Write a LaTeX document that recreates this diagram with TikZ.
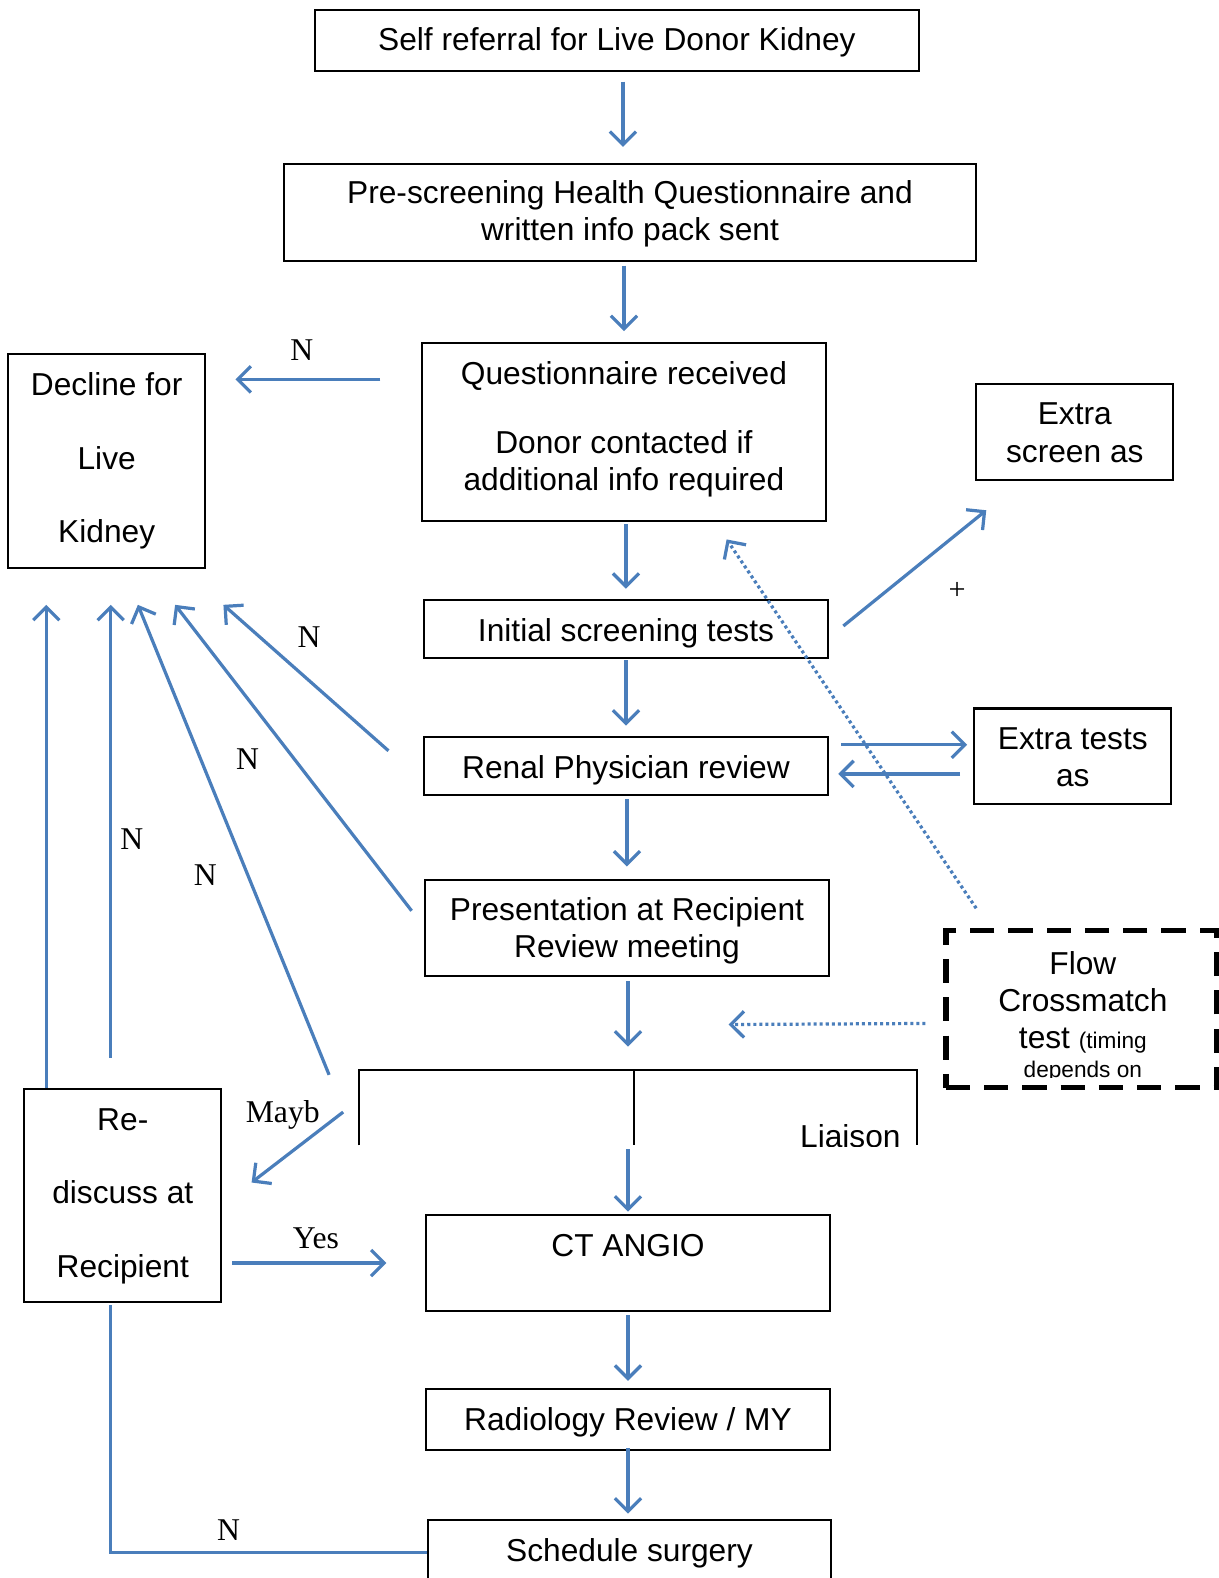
\documentclass[tikz,border=0pt]{standalone}
\usepackage{fontspec}
\setmainfont{Liberation Sans}
\newfontfamily\labserif{Liberation Serif}
\usetikzlibrary{arrows.meta,calc}
\definecolor{lineblue}{RGB}{74,126,187}
\begin{document}
\begin{tikzpicture}[x=1pt,y=-1pt,
  box/.style={draw=black,line width=2pt,inner sep=0pt},
  txt/.style={align=center,inner sep=0pt,font=\fontsize{31.5}{37}\selectfont,text height=22.5pt,text depth=0pt},
  lab/.style={inner sep=0pt,font=\labserif\fontsize{31.5}{34}\selectfont,text height=20.9pt,text depth=0pt},
  conn/.style={draw=lineblue,line width=3.2pt},
  arr/.style={conn,-{Straight Barb[length=13pt,width=26pt,line width=3.2pt]}},
  dotarr/.style={arr,dash pattern=on 3pt off 3pt}]
\useasboundingbox (0,0) rectangle (1211,1568);

% boxes
\node[box,minimum width=600pt,minimum height=61pt] (b1) at (613,40.5) {};
\node[box,minimum width=688pt,minimum height=96pt] (b2) at (626,211) {};
\node[box,minimum width=402pt,minimum height=177pt] (b3) at (620,429.5) {};
\node[box,minimum width=196pt,minimum height=212pt] (bD) at (106,458) {};
\node[box,minimum width=196pt,minimum height=95pt] (bES) at (1068,429.5) {};
\node[box,minimum width=402pt,minimum height=58pt] (b4) at (622,625) {};
\node[box,minimum width=402pt,minimum height=58pt] (b5) at (622,761) {};
\node[box,minimum width=196pt,minimum height=95pt] (bET) at (1066,751.5) {};
\node[box,minimum width=402pt,minimum height=96pt] (b6) at (623,922) {};
\node[draw=black,line width=5pt,dash pattern=on 24pt off 14pt,inner sep=0pt,minimum width=269pt,minimum height=156pt] (bF) at (1074.5,1003) {};
\node[box,minimum width=196pt,minimum height=212pt] (bR) at (122,1188) {};
\node[box,minimum width=402pt,minimum height=96pt] (b7) at (624,1255) {};
\node[box,minimum width=402pt,minimum height=61pt] (b8) at (624,1410.5) {};
\node[box,minimum width=401pt,minimum height=66pt] (b9) at (625.5,1543) {};

% open review box (cut off)
\coordinate (rtl) at (357,1063);
\coordinate (rtop) at (630,1063);
\coordinate (rbot) at (630,1138);
\draw[black,line width=2pt] (357,1138) -- (rtl) -- (911,1063) -- (911,1138);
\draw[black,line width=2pt] (rtop) -- (rbot);

% texts (multi-line nodes are placed by their last line)
\node[txt] (t1) at (613,39) {Self referral for Live Donor Kidney};
\node[txt] (t2) at (626,228) {Pre-screening Health Questionnaire and\\written info pack sent};
\node[txt] (t3) at (620,476) {Questionnaire received\\[31pt]Donor contacted if\\additional info required};
\node[txt] (tD) at (106,528) {Decline for\\[36pt]Live\\[36pt]Kidney};
\node[txt] (tES) at (1068,448) {Extra\\screen as};
\node[txt] (t4) at (622,626) {Initial screening tests};
\node[txt] (t5) at (622,762) {Renal Physician review};
\node[txt] (tET) at (1066,770) {Extra tests\\as};
\node[txt] (t6) at (623,940) {Presentation at Recipient\\Review meeting};
\begin{scope}
  \clip (940,925) rectangle (1209,1071);
  \node[txt,anchor=base] (tF) at (1076,1071) {Flow\\Crossmatch\\test {\fontsize{22.5}{26}\selectfont (timing}\\[-8pt]{\fontsize{22.5}{26}\selectfont depends on}};
\end{scope}
\begin{scope}
  \clip (760,1063) rectangle (905,1139);
  \node[txt] (tL) at (845,1129) {Liaison};
\end{scope}
\node[txt] (tR) at (122,1258) {Re-\\[36pt]discuss at\\[36pt]Recipient};
\node[txt] (t7) at (624,1237) {CT ANGIO};
\node[txt] (t8) at (624,1410) {Radiology Review / MY};
\node[txt] (t9) at (625.5,1540) {Schedule surgery};

% main vertical flow
\draw[arr] ($(b1.south)+(6,9)$) -- ($(b2.north)+(-7,-16)$);
\draw[arr] ($(b2.south)+(-6,4)$) -- ($(b3.north)+(0,-11)$);
\draw[arr] ($(b3.south)+(2,2)$) -- ($(b4.north)+(0,-10)$);
\draw[arr] ($(b4.south)+(0,1)$) -- ($(b5.north)+(0,-10)$);
\draw[arr] ($(b5.south)+(1,3)$) -- ($(b6.north)+(0,-12)$);
\draw[arr] ($(b6.south)+(1,4)$) -- ($(rtop)+(-6,-23)$);
\draw[arr] ($(rbot)+(-6,4)$) -- ($(b7.north)+(0,-2)$);
\draw[arr] ($(b7.south)+(0,3)$) -- ($(b8.north)+(0,-7)$);
\draw[arr] ($(b8.south)+(0,-3)$) -- ($(b9.north)+(-1.5,-5)$);

% side arrows
\draw[arr] ($(b3.west)+(-40,-52.5)$) -- ($(bD.east)+(29,-81)$);
\draw[arr] ($(b4.east)+(14,-3)$) -- ($(bES.south)+(-88,29)$);
\draw[dotarr] ($(bF.north)+(-104.5,-20)$) -- ($(b3.south)+(102,17)$);
\draw[arr] ($(b5.east)+(12,-21)$) -- ($(bET.west)+(-6,-11.5)$);
\draw[arr] ($(bET.west)+(-13,17.5)$) -- ($(b5.east)+(9,8)$);
\draw[dotarr] ($(bF.west)+(-18,14)$) -- ($(b6.south)+(101,47)$);

% arrows to decline
\draw[arr] ($(b5.west)+(-34,-15)$) -- ($(bD.south)+(116,36)$);
\draw[arr] ($(b6.west)+(-12,-17)$) -- ($(bD.south)+(68,36)$);
\draw[arr] ($(rtl)+(-30,5)$) -- ($(bD.south)+(31,36)$);
\draw[arr] ($(bR.north)+(-12,-30)$) -- ($(bD.south)+(4,36)$);
\draw[arr] ($(bR.north)+(-76,0)$) -- ($(bD.south)+(-60,36)$);

% maybe / yes / N
\draw[arr] ($(rtl)+(-16,42)$) -- ($(bR.east)+(29,-13)$);
\draw[arr] ($(bR.east)+(10,67)$) -- ($(b7.west)+(-38,0)$);
\draw[conn] ($(bR.south)+(-12,2)$) |- (b9.west);

% labels
\node[lab] (n1) at (300,348) {N};
\node[lab] (n2) at (307,633) {N};
\node[lab] (n3) at (246,754) {N};
\node[lab] (n4) at (131,834) {N};
\node[lab] (n5) at (204,869) {N};
\node[lab] (lm) at (281,1105) {Mayb};
\node[lab] (ly) at (314,1230) {Yes};
\node[lab] (n6) at (227,1520) {N};
\node[inner sep=0pt,font=\labserif\fontsize{30}{32}\selectfont] (plus) at (951,587) {+};
\end{tikzpicture}
\end{document}
